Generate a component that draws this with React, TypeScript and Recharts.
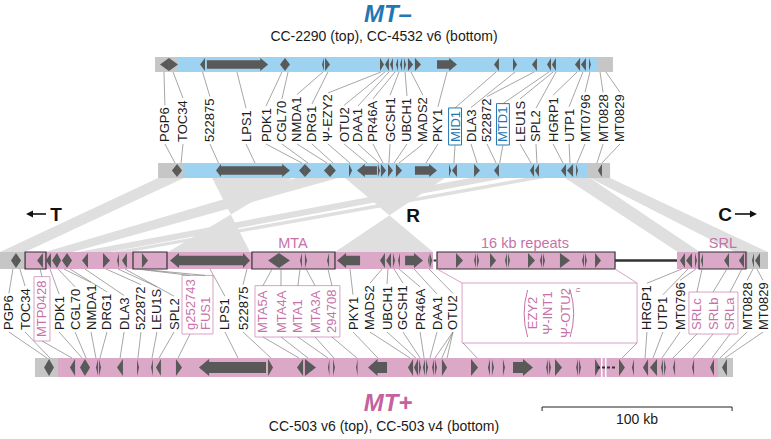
import React from "react";
import {ComposedChart, XAxis, YAxis, ReferenceArea, ReferenceLine, ReferenceDot} from "recharts";

// x is kb along the drawing (100 kb = 190 px), y is the layout row in px
const WIDTH = 771;
const HEIGHT = 439;
const KB_MAX = WIDTH / 1.9;

type Seg = [number, number, "end" | "core"];
type Gene = [number, number, "L" | "R"];
type Lab = [string, number, number | null, number | number[] | null];
type Band = [number, number, number, number];

// ---- tracks (kb) ----
const mtMinusTopTrack: Seg[] = [[81.6, 93.7, "end"], [93.7, 314.2, "core"], [314.2, 322.6, "end"]];
const mtMinusBotTrack: Seg[] = [[83.2, 96.3, "end"], [96.3, 309.5, "core"], [309.5, 321.1, "end"]];
const mtPlusTopTrack: Seg[] = [[0, 13.2, "end"], [13.2, 227.9, "core"], [230, 323.7, "core"], [356.3, 393.7, "core"], [393.7, 404.2, "end"]];
const mtPlusBotTrack: Seg[] = [[18.4, 30.5, "end"], [30.5, 377.9, "core"], [377.9, 385.8, "end"]];

// ---- genes: start, end, strand ----
const mtMinusTopGenes: Gene[] = [
    [84.2, 88.9, "L"], [88.9, 93.7, "R"], [105.3, 107.9, "L"], [108.9, 141.1, "R"],
    [147.4, 150, "L"], [150, 152.6, "R"], [169.5, 170.5, "L"], [171.1, 173.7, "R"],
    [200, 202.1, "R"], [202.6, 204.7, "L"], [205.3, 206.8, "L"], [208.4, 209.5, "L"],
    [210.5, 211.6, "L"], [212.6, 213.7, "R"], [214.7, 217.4, "R"], [218.4, 221.6, "R"],
    [230, 240.5, "R"], [260, 262.6, "L"], [270, 272.1, "R"], [280, 282.6, "L"],
    [287.9, 290, "L"], [290.5, 292.6, "L"], [302.6, 305.3, "L"], [305.8, 308.4, "L"], [310, 311, "R"],
];
const mtMinusBotGenes: Gene[] = [
    [90.5, 93.2, "L"], [93.2, 95.8, "R"], [113.7, 116.3, "L"], [116.3, 152.6, "R"],
    [157.4, 160.5, "L"], [160.5, 163.7, "R"], [170.5, 173.7, "L"], [173.7, 176.8, "R"],
    [183.7, 185.3, "R"], [187.9, 198.4, "L"], [198.9, 200, "R"], [200.5, 203.2, "R"],
    [204.2, 206.8, "R"], [208.4, 211.6, "R"], [218.4, 230, "R"], [236.3, 237.4, "R"],
    [237.9, 240.5, "L"], [249.5, 252.6, "R"], [260, 262.6, "L"], [278.9, 281.1, "L"],
    [281.6, 283.7, "L"], [295.3, 297.9, "L"], [298.4, 301.6, "L"], [303.2, 304.2, "R"], [314.7, 316.8, "L"],
];
const mtPlusTopGenes: Gene[] = [
    [5.8, 8.4, "L"], [8.4, 11.1, "R"], [19.5, 22.6, "L"], [24.2, 26.8, "L"], [27.4, 30, "L"],
    [30, 32.1, "R"], [32.6, 35.3, "L"], [35.3, 37.9, "R"], [43.2, 46.3, "L"], [54.2, 57.9, "R"],
    [61.6, 62.6, "L"], [64.2, 66.8, "L"], [74.7, 77.9, "R"], [89.5, 127.9, "L"], [127.9, 131.6, "R"],
    [141.1, 146.8, "L"], [146.8, 152.6, "R"], [157.9, 158.9, "L"], [160.5, 161.6, "R"], [172.1, 173.2, "L"],
    [177.4, 189.5, "L"], [200, 202.6, "L"], [203.2, 205.8, "L"], [206.8, 207.9, "R"], [209.5, 210.5, "L"],
    [213.2, 222.6, "R"], [225.3, 226.1, "L"], [226.3, 227.4, "R"],
    [240, 243.7, "R"], [249.5, 250.5, "L"], [251.1, 252.1, "R"], [257.9, 261.1, "R"],
    [265.8, 266.8, "L"], [267.4, 268.4, "R"], [277.9, 281.6, "R"], [284.2, 285.3, "L"],
    [285.8, 286.8, "R"], [294.7, 300, "R"], [306.3, 307.4, "L"], [307.9, 308.9, "R"], [313.2, 316.3, "R"],
    [357.9, 360.5, "L"], [361.1, 364.2, "L"], [365.8, 366.8, "R"], [368.9, 370, "L"],
    [381.1, 383.7, "L"], [388.9, 391.6, "L"], [395.8, 396.8, "L"], [397.4, 400, "L"],
];
const mtPlusBotGenes: Gene[] = [
    [23.2, 25.8, "L"], [25.8, 28.4, "R"], [36.8, 39.5, "L"], [42.1, 44.7, "L"], [44.7, 47.4, "R"],
    [50.5, 51.6, "L"], [52.1, 53.2, "R"], [61.6, 64.7, "L"], [72.1, 73.2, "R"], [79.5, 80.5, "L"],
    [82.1, 84.7, "L"], [92.6, 95.8, "R"], [104.7, 140, "L"], [141.1, 143.7, "R"],
    [156.3, 159.5, "L"], [160.5, 166.3, "R"], [172.6, 173.4, "L"], [175.3, 176.3, "R"], [187.4, 188.2, "L"],
    [193.7, 203.7, "L"], [214.7, 217.4, "L"], [217.9, 220, "L"], [220.5, 221.6, "R"], [222.6, 223.7, "L"],
    [224.2, 225.3, "R"], [227.4, 228.4, "L"], [228.9, 230, "R"], [232.6, 235.3, "R"],
    [247.9, 251.6, "R"], [256.8, 257.9, "L"], [258.9, 260, "R"], [264.7, 265.8, "R"], [270, 280.5, "R"],
    [287.4, 288.4, "L"], [288.9, 290, "R"], [292.1, 295.8, "R"], [303.2, 304.2, "L"], [304.7, 305.8, "R"],
    [313.2, 315.8, "R"], [325.8, 328.9, "R"], [332.6, 333.7, "L"], [338.4, 341.1, "L"], [342.1, 345.8, "L"],
    [347.9, 348.9, "L"], [349.5, 350.5, "R"], [354.2, 355.3, "L"], [364.2, 365.3, "L"], [373.7, 375.8, "L"],
    [380, 382.6, "L"],
];

// ---- synteny bands: MT- start, end -> MT+ start, end (reversed = inversion) ----
const synteny: Band[] = [
    [83.2, 96.8, 0, 13.2],
    [155.8, 177.9, 23.7, 38.4],
    [247.4, 265.8, 41.1, 57.9],
    [276.3, 286.8, 58.9, 68.4],
    [111.6, 153.7, 131.6, 88.4],
    [181.6, 234.2, 227.9, 176.3],
    [297.4, 310.5, 356.8, 368.4],
    [310.5, 321.1, 386.8, 404.2],
];

// ---- labels: name, label position, gene on upper track, gene on lower track ----
const mtMinusLabels: Lab[] = [
    ["PGP6", 86.8, 86.3, 92.1], ["TOC34", 96.3, 91.1, 95.3], ["522875", 110.5, 106.6, 115.0],
    ["LPS1", 129.5, 124.7, 134.2], ["PDK1", 140.0, 148.4, 158.9], ["CGL70", 148.4, 151.6, 162.1],
    ["NMDA1", 156.3, 170.0, 172.1], ["DRG1", 164.2, 172.6, 175.3], ["Ψ-EZY2", 172.6, 200.5, 184.2],
    ["OTU2", 181.1, 202.6, 193.2], ["DAA1", 188.4, 204.7, 199.5], ["PR46A", 196.3, 207.9, 201.6],
    ["GCSH1", 205.3, 210.0, 204.7], ["UBCH1", 214.2, 213.2, 207.4], ["MADS2", 222.6, 216.3, 210.0],
    ["PKY1", 230.5, 235.3, 224.2], ["MID1", 239.5, 261.1, 238.9], ["DLA3", 247.9, 271.1, 251.1],
    ["522872", 256.3, 281.1, 261.1], ["MTD1", 264.7, 288.9, 263.0], ["LEU1S", 273.7, 291.1, 279.5],
    ["SPL2", 282.1, 292.6, 282.6], ["HGRP1", 291.1, 303.7, 296.3], ["UTP1", 299.5, 306.8, 300.0],
    ["MT0796", 307.9, 310.5, 303.7], ["MT0828", 317.4, 315.8, 314.2], ["MT0829", 326.3, 318.9, 316.8],
];
const mtMinusBoxed = ["MID1", "MTD1"];

const mtPlusLabels: Lab[] = [
    ["PGP6", 4.7, 6.8, 24.7], ["TOC34", 13.2, 10.5, 26.3], ["MTP0428", 22.1, 21.1, 37.9],
    ["PDK1", 31.1, 26.3, 43.2], ["CGL70", 39.5, 30.5, 45.3], ["NMDA1", 47.9, 33.7, 50.5],
    ["DRG1", 56.3, 36.8, 52.6], ["DLA3", 65.3, 44.7, 63.2], ["522872", 74.2, 55.8, 72.6],
    ["LEU1S", 82.6, 62.1, 80.0], ["SPL2", 91.6, 65.8, 83.7], ["g252743", 100.0, 72.0, 93.7],
    ["FUS1", 107.9, 73.0, null], ["LPS1", 118.4, 110.5, 125.3], ["522875", 127.9, 130.0, 142.6],
    ["MTA5A", 138.4, 143.2, 157.4], ["MTA4A", 147.9, 147.9, 162.1], ["MTA1", 156.8, 157.9, 172.6],
    ["MTA3A", 165.8, 161.1, 175.8], ["294708", 174.7, 172.6, 187.9], ["PKY1", 185.8, 184.2, 198.9],
    ["MADS2", 194.7, 201.1, 215.8], ["UBCH1", 203.7, 204.2, 218.9], ["GCSH1", 212.1, 207.4, 221.1],
    ["PR46A", 221.1, 210.0, 223.2], ["DAA1", 230.0, 217.9, 226.3], ["OTU2", 238.4, 225.8, [228.9, 232.6, 235.3]],
    ["HRGP1", 340.5, 358.9, 339.5], ["UTP1", 348.9, 362.1, 343.7], ["MT0796", 357.9, 366.3, 348.4],
    ["SRLc", 366.8, 369.5, 354.2], ["SRLb", 375.3, 382.6, 364.7], ["SRLa", 384.2, 390.5, 374.7],
    ["MT0828", 393.2, 396.3, 378.9], ["MT0829", 401.6, 398.4, 381.6],
];
const mtPlusBoxes = [["MTP0428"], ["g252743", "FUS1"], ["MTA5A", "MTA4A", "MTA1", "MTA3A", "294708"], ["SRLc", "SRLb", "SRLa"]];

// outlined regions on the MT+ top track
const mtPlusRegions: [number, number][] = [[13.2, 24.2], [70, 87.9], [132.6, 176.3], [230, 323.7], [367.9, 392.6]];
const regionTitles: [string, number][] = [["MTA", 154.2], ["16 kb repeats", 276.3], ["SRL", 380.5]];
const repeatUnit = ["EZY2", "Ψ-INT1", "Ψ-OTU2"];
const repeatUnitPos = [280.0, 288.4, 297.4];

// ---- layout ----
const ROW = {mmTop: [57, 72], mmBot: [163, 178], mpTop: [252, 269], mpBot: [358, 377]};
const FONT = "'Liberation Sans', Arial, Helvetica, sans-serif";
const BLUE = "#9dd3f0";
const PINK = "#dba8c8";
const GREY_END = "#c6c6c6";
const GENE = "#595959";
const BAND = "#dfdfdf";
const LINK = "#808080";
const BLUE_TXT = "#1f78b4";
const PINK_TXT = "#c672a8";
const PINK_BOX = "#d9a2c5";
const LABEL_FS = 13;

const CW: Record<string, number> = {
    M: .833, I: .278, T: .611, L: .556, F: .611, Z: .611, G: .778, O: .778, C: .722, D: .722,
    H: .722, N: .722, R: .722, U: .722, "-": .333, "Ψ": .78, g: .556, c: .5,
};
function textLen(s: string, size: number) {
    let w = 0;
    for (const ch of s) w += CW[ch] ?? (ch >= "0" && ch <= "9" ? .556 : .667);
    return w * size;
}

function geneShape(dir: "L" | "R") {
    return (p: any) => {
        const {x, y, width: w, height: h} = p;
        const mid = y + h / 2;
        let pts: number[][];
        if (w <= h * 0.95) {
            pts = dir === "R" ? [[x, y], [x + w, mid], [x, y + h]] : [[x + w, y], [x, mid], [x + w, y + h]];
        } else {
            const head = Math.min(h * 0.6, w * 0.5);
            const bh = h * 0.32;
            pts = dir === "R"
                ? [[x, mid - bh], [x + w - head, mid - bh], [x + w - head, y], [x + w, mid], [x + w - head, y + h], [x + w - head, mid + bh], [x, mid + bh]]
                : [[x + w, mid - bh], [x + head, mid - bh], [x + head, y], [x, mid], [x + head, y + h], [x + head, mid + bh], [x + w, mid + bh]];
        }
        return <polygon points={pts.map((q) => q.join(",")).join(" ")} fill={GENE}/>;
    };
}

function bandShape([a1, a2, b1, b2]: Band) {
    const lo = Math.min(a1, a2, b1, b2);
    const hi = Math.max(a1, a2, b1, b2);
    return (p: any) => {
        const f = (v: number) => p.x + ((v - lo) / (hi - lo)) * p.width;
        const yT = p.y;
        const yB = p.y + p.height;
        return <polygon points={`${f(a1)},${yT} ${f(a2)},${yT} ${f(b2)},${yB} ${f(b1)},${yB}`} fill={BAND}/>;
    };
}

const seg = (key: string, x1: number, y1: number, x2: number, y2: number, stroke = LINK, sw = 0.7, dash?: string) => (
    <ReferenceLine key={key} segment={[{x: x1, y: y1}, {x: x2, y: y2}]} stroke={stroke} strokeWidth={sw}
                   strokeDasharray={dash} ifOverflow="visible"/>
);

const txt = (key: string, x: number, y: number, s: string, opts: any = {}, rotate = false) => (
    <ReferenceDot key={key} x={x} y={y} ifOverflow="visible" shape={(p: any) => (
        <text x={p.cx} y={p.cy} fontFamily={FONT} textAnchor="middle" {...opts}
              transform={rotate ? `rotate(-90 ${p.cx} ${p.cy})` : undefined}>{s}</text>
    )}/>
);

const box = (key: string, x1: number, x2: number, y1: number, y2: number, stroke: string, sw = 1, fill = "none") => (
    <ReferenceArea key={key} x1={x1} x2={x2} y1={y1} y2={y2} fill={fill} fillOpacity={1} stroke={stroke}
                   strokeWidth={sw} ifOverflow="visible"/>
);

function trackEls(key: string, segs: Seg[], row: number[], core: string) {
    return segs.map(([s, e, kind], i) => box(`${key}${i}`, s, e, row[0], row[1], "none", 0, kind === "end" ? GREY_END : core));
}

function geneEls(key: string, genes: Gene[], row: number[]) {
    return genes.map(([s, e, d], i) => (
        <ReferenceArea key={`${key}${i}`} x1={s} x2={e} y1={row[0] + 1} y2={row[1] - 1} ifOverflow="visible"
                       shape={geneShape(d)}/>
    ));
}

function mtMinusLabelEls() {
    const els: React.ReactElement[] = [];
    const base = 142;
    mtMinusLabels.forEach(([name, x, topX, botX], i) => {
        const yT = base - textLen(name, LABEL_FS);
        const boxed = mtMinusBoxed.includes(name);
        const pad = boxed ? 3 : 2;
        if (boxed) els.push(box(`mmbx${i}`, x - 3.4, x + 3.4, yT - pad, base + pad, BLUE_TXT, 1, "#fff"));
        if (topX != null) els.push(seg(`mmt${i}`, topX, ROW.mmTop[1], x, yT - pad));
        if (botX != null) els.push(seg(`mmb${i}`, x, base + pad, botX as number, ROW.mmBot[0]));
        els.push(txt(`mml${i}`, x, base, name, {
            textAnchor: "start", dominantBaseline: "central", fontSize: LABEL_FS, fill: boxed ? BLUE_TXT : "#1a1a1a",
        }, true));
    });
    return els;
}

function mtPlusBase(name: string) {
    if (name === "MTP0428") return 337;
    if (mtPlusBoxes[2].includes(name)) return 333;
    return 330;
}

function mtPlusLabelEls() {
    const els: React.ReactElement[] = [];
    const extent: Record<string, [number, number]> = {};
    mtPlusBoxes.forEach((g, gi) => {
        const items = mtPlusLabels.filter((l) => g.includes(l[0]));
        const xs = items.map((l) => l[1]);
        const top = Math.min(...items.map((l) => mtPlusBase(l[0]) - textLen(l[0], LABEL_FS))) - 4;
        const bot = Math.max(...items.map((l) => mtPlusBase(l[0]))) + 4;
        els.push(box(`mpbx${gi}`, Math.min(...xs) - 4.2, Math.max(...xs) + 4.2, top, bot, PINK_BOX, 1, "#fff"));
        g.forEach((n) => (extent[n] = [top, bot]));
    });
    mtPlusLabels.forEach(([name, x, topX, botX], i) => {
        const base = mtPlusBase(name);
        const ext = extent[name];
        const yT = ext ? ext[0] : base - textLen(name, LABEL_FS) - 2;
        const yB = ext ? ext[1] : base + 2;
        if (topX != null) els.push(seg(`mpt${i}`, topX, ROW.mpTop[1], x, yT));
        const bots = botX == null ? [] : Array.isArray(botX) ? botX : [botX];
        bots.forEach((b, j) => els.push(seg(`mpb${i}_${j}`, x, yB, b, ROW.mpBot[0])));
        els.push(txt(`mpl${i}`, x, base, name, {
            textAnchor: "start", dominantBaseline: "central", fontSize: LABEL_FS, fill: ext ? PINK_TXT : "#1a1a1a",
        }, true));
    });
    return els;
}

const arrowShape = (dir: "L" | "R") => (p: any) => {
    const mid = p.y + p.height / 2;
    const x0 = p.x;
    const x1 = p.x + p.width;
    const head = dir === "L"
        ? `${x0},${mid} ${x0 + 7},${mid - 3.5} ${x0 + 7},${mid + 3.5}`
        : `${x1},${mid} ${x1 - 7},${mid - 3.5} ${x1 - 7},${mid + 3.5}`;
    return (
        <g>
            <line x1={dir === "L" ? x0 + 6 : x0} x2={dir === "L" ? x1 : x1 - 6} y1={mid} y2={mid} stroke="#111" strokeWidth={1.6}/>
            <polygon points={head} fill="#111"/>
        </g>
    );
};

const parenShape = (p: any) => {
    const {x, y, width: w, height: h} = p;
    return (
        <g fill="none" stroke={PINK_TXT} strokeWidth={1}>
            <path d={`M ${x + 4} ${y} Q ${x - 3} ${y + h / 2} ${x + 4} ${y + h}`}/>
            <path d={`M ${x + w - 4} ${y} Q ${x + w + 3} ${y + h / 2} ${x + w - 4} ${y + h}`}/>
        </g>
    );
};

export default function App() {
    const pinkMid = (ROW.mpTop[0] + ROW.mpTop[1]) / 2;
    const botMid = (ROW.mpBot[0] + ROW.mpBot[1]) / 2;
    return (
        <div style={{position: "absolute", left: 0, top: 0, width: WIDTH, height: HEIGHT, background: "#fff"}}>
            <ComposedChart width={WIDTH} height={HEIGHT} margin={{top: 0, right: 0, bottom: 0, left: 0}} data={[]}>
                <XAxis type="number" dataKey="x" domain={[0, KB_MAX]} hide allowDataOverflow/>
                <YAxis type="number" domain={[0, HEIGHT]} reversed hide allowDataOverflow/>

                {synteny.map((b, i) => (
                    <ReferenceArea key={`band${i}`} x1={Math.min(...b)} x2={Math.max(...b)} y1={ROW.mmBot[1]}
                                   y2={ROW.mpTop[0]} ifOverflow="visible" shape={bandShape(b)}/>
                ))}

                {trackEls("mmT", mtMinusTopTrack, ROW.mmTop, BLUE)}
                {trackEls("mmB", mtMinusBotTrack, ROW.mmBot, BLUE)}
                {trackEls("mpT", mtPlusTopTrack, ROW.mpTop, PINK)}
                {trackEls("mpB", mtPlusBotTrack, ROW.mpBot, PINK)}

                {geneEls("gmmT", mtMinusTopGenes, ROW.mmTop)}
                {geneEls("gmmB", mtMinusBotGenes, ROW.mmBot)}
                {geneEls("gmpT", mtPlusTopGenes, ROW.mpTop)}
                {geneEls("gmpB", mtPlusBotGenes, ROW.mpBot)}

                {mtPlusRegions.map(([s, e], i) => box(`reg${i}`, s, e, ROW.mpTop[0], ROW.mpTop[1], "#333", 1.2))}
                {seg("gapline", 323.7, pinkMid, 356.3, pinkMid, "#333", 2.4)}
                {seg("gapdot", 228.2, pinkMid, 229.6, pinkMid, "#333", 2)}

                {/* break in the lower MT+ assembly */}
                {box("brk0", 316.3, 317.1, ROW.mpBot[0], ROW.mpBot[1], "none", 0, "#fff")}
                {box("brk1", 318.4, 319.2, ROW.mpBot[0], ROW.mpBot[1], "none", 0, "#fff")}
                {seg("brkd", 314.2, botMid, 324.2, botMid, "#333", 2, "3 2")}

                {regionTitles.map(([s, x], i) => txt(`rt${i}`, x, 248, s, {fontSize: 14.5, fill: PINK_TXT}))}

                {mtMinusLabelEls()}
                {mtPlusLabelEls()}

                {/* 16 kb repeat unit call-out */}
                {seg("rp1", 230, ROW.mpTop[1], 243.2, 283, PINK_BOX, 1)}
                {seg("rp2", 323.7, ROW.mpTop[1], 335.3, 283, PINK_BOX, 1)}
                {seg("rp3", 243.7, 343, 251.1, ROW.mpBot[0], LINK)}
                {seg("rp4", 335.3, 343, 327.4, ROW.mpBot[0], LINK)}
                {box("rpbox", 243.2, 335.3, 283, 343, PINK_BOX, 1, "#fff")}
                <ReferenceArea x1={275.6} x2={302.2} y1={290} y2={337} ifOverflow="visible" shape={parenShape}/>
                {repeatUnit.map((s, i) => txt(`ru${i}`, repeatUnitPos[i], 313, s, {
                    fontSize: LABEL_FS, fill: PINK_TXT, dominantBaseline: "central",
                }, true))}
                {txt("run", 304.2, 290, "n", {fontSize: 8, fill: PINK_TXT, dominantBaseline: "central"}, true)}

                {/* domain marks */}
                <ReferenceArea x1={13.7} x2={24.2} y1={211} y2={217} ifOverflow="visible" shape={arrowShape("L")}/>
                {txt("T", 29.5, 221, "T", {fontSize: 19, fontWeight: "bold", fill: "#111"})}
                {txt("R", 217.4, 222, "R", {fontSize: 19, fontWeight: "bold", fill: "#111"})}
                {txt("C", 381.6, 221, "C", {fontSize: 19, fontWeight: "bold", fill: "#111"})}
                <ReferenceArea x1={386.8} x2={398.4} y1={211} y2={217} ifOverflow="visible" shape={arrowShape("R")}/>

                {/* titles */}
                {txt("mmTitle", 204.2, 22, "MT–", {fontSize: 24, fontWeight: "bold", fontStyle: "italic", fill: BLUE_TXT})}
                {txt("mmSub", 202.1, 41, "CC-2290 (top), CC-4532 v6 (bottom)", {fontSize: 14, fill: "#1a1a1a"})}
                {txt("mpTitle", 204.2, 411, "MT+", {fontSize: 24, fontWeight: "bold", fontStyle: "italic", fill: "#c3629d"})}
                {txt("mpSub", 202.1, 431, "CC-503 v6 (top), CC-503 v4 (bottom)", {fontSize: 14, fill: "#1a1a1a"})}

                {/* scale bar */}
                {seg("sb", 285.3, 407, 385.3, 407, "#222", 1)}
                {seg("sb1", 285.3, 407, 285.3, 411, "#222", 1)}
                {seg("sb2", 385.3, 407, 385.3, 411, "#222", 1)}
                {txt("sbt", 335.3, 424, "100 kb", {fontSize: 14, fill: "#1a1a1a"})}
            </ComposedChart>
        </div>
    );
}
